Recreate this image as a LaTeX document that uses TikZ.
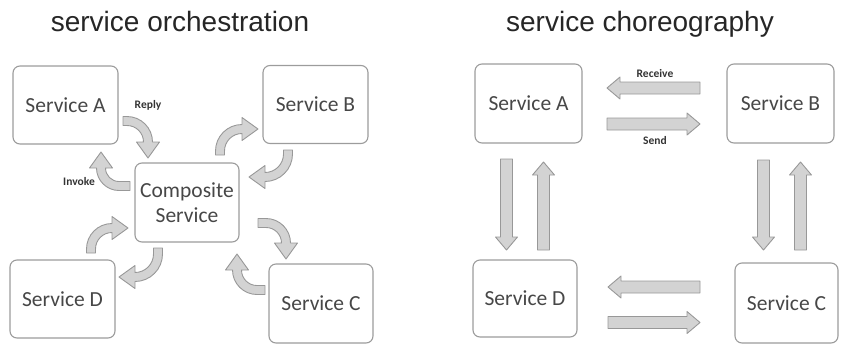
\documentclass[tikz,border=0pt]{standalone}
\usepackage{fontspec}
\setmainfont{Liberation Sans}
\newfontfamily\svcfont{Carlito}
\usetikzlibrary{calc}

\definecolor{boxgray}{HTML}{9C9C9C}
\definecolor{arrowfill}{HTML}{D3D3D3}
\definecolor{arrowline}{HTML}{989898}
\definecolor{svctext}{HTML}{474747}
\definecolor{labeltext}{HTML}{333333}
\definecolor{titletext}{HTML}{262626}

% half shaft width, half head width and head length of the bent arrows
\def\bsw{4.5}
\def\bhw{11.5}
\def\bhl{16}
% same for the straight arrows
\def\ssw{6pt}
\def\shw{11pt}
\def\shl{13pt}

% bent block arrow: #1 centre of the bend, #2 start angle, #3 end angle,
% #4 radius of the bend, #5 length of the straight tail
\newcommand{\bentarrow}[5]{%
  \pgfmathsetmacro\dirsgn{(#3>#2) ? 1 : -1}%
  \pgfmathsetmacro\headdir{#3+90*\dirsgn}%
  \pgfmathsetmacro\taildir{#2-90*\dirsgn}%
  \pgfmathsetmacro\ro{#4+\bsw}%
  \pgfmathsetmacro\ri{#4-\bsw}%
  \pgfmathsetmacro\hwo{#4+\bhw}%
  \pgfmathsetmacro\hwi{#4-\bhw}%
  \draw[blockarrow]
    ($(#1)+(#2:\ri)+(\taildir:#5)$) -- ($(#1)+(#2:\ro)+(\taildir:#5)$)
    -- ($(#1)+(#2:\ro)$) arc[start angle=#2, end angle=#3, radius=\ro]
    -- ($(#1)+(#3:\hwo)$) -- ($(#1)+(#3:#4)+(\headdir:\bhl)$)
    -- ($(#1)+(#3:\hwi)$) -- ($(#1)+(#3:\ri)$)
    arc[start angle=#3, end angle=#2, radius=\ri] -- cycle;
}

% straight block arrow from #1 to the tip #2
\newcommand{\flatarrow}[2]{%
  \path ($(#2)!\shl!(#1)$) coordinate (hb);
  \draw[blockarrow]
    ($(#1)!\ssw!90:(#2)$) -- ($(hb)!\ssw!90:(#2)$) -- ($(hb)!\shw!90:(#2)$)
    -- (#2) -- ($(hb)!\shw!-90:(#2)$) -- ($(hb)!\ssw!-90:(#2)$)
    -- ($(#1)!\ssw!-90:(#2)$) -- cycle;
}

\begin{document}
\begin{tikzpicture}[x=1pt, y=1pt,
  svc/.style={draw=boxgray, line width=1.1pt, rounded corners=7pt, fill=white,
    minimum width=105pt, minimum height=78pt, inner sep=0pt, align=center,
    text=svctext, font=\svcfont\fontsize{21.5}{25}\selectfont},
  heading/.style={anchor=base, text=titletext, font=\fontsize{28}{32}\selectfont},
  msg/.style={text=labeltext, font=\svcfont\bfseries\fontsize{11.5}{13}\selectfont},
  blockarrow/.style={fill=arrowfill, draw=arrowline, line width=0.9pt, line join=round}]
\useasboundingbox (0,0) rectangle (846,-346);

% headings
\node[heading] (t1) at (180,-31.5) {service orchestration};
\node[heading] (t2) at (640,-31.5) {service choreography};

% orchestration: services around the composite service
\node[svc] (oA) at (65.5,-105) {Service A};
\node[svc] (oB) at (315.5,-104.5) {Service B};
\node[svc, minimum width=104pt, minimum height=79pt] (oX) at (187,-202.5) {Composite\\Service};
\node[svc] (oD) at (62.5,-299) {Service D};
\node[svc, minimum width=104pt, minimum height=79pt] (oC) at (321,-303.5) {Service C};

\coordinate (bReply)  at (127,-142);
\coordinate (bInvoke) at (119,-168);
\coordinate (bXB)     at (242,-151);
\coordinate (bBX)     at (265,-154);
\coordinate (bXC)     at (266,-243);
\coordinate (bCX)     at (257,-270);
\coordinate (bDX)     at (112,-249);
\coordinate (bXD)     at (135,-254);

\bentarrow{bReply}{90}{0}{21}{4}
\bentarrow{bInvoke}{270}{180}{18}{11}
\bentarrow{bXB}{180}{90}{22}{4}
\bentarrow{bBX}{0}{-90}{23}{4}
\bentarrow{bXC}{90}{0}{20}{8}
\bentarrow{bCX}{270}{180}{20}{8}
\bentarrow{bDX}{180}{90}{21}{4}
\bentarrow{bXD}{0}{-90}{23}{6}

\node[msg] (lReply)  at (148,-105) {Reply};
\node[msg] (lInvoke) at (79,-182) {Invoke};

% choreography: services talking to each other directly
\node[svc, minimum width=107pt, minimum height=79pt] (cA) at (528.5,-103.5) {Service A};
\node[svc, minimum width=107pt, minimum height=79pt] (cB) at (780.5,-103.5) {Service B};
\node[svc, minimum width=104pt, minimum height=77pt] (cD) at (525,-298.5) {Service D};
\node[svc, minimum width=103pt, minimum height=80pt] (cC) at (786.5,-303) {Service C};

\coordinate (rcvS) at (700,-88);   \coordinate (rcvE) at (607,-88);
\coordinate (sndS) at (607,-124);  \coordinate (sndE) at (700,-124);
\coordinate (adS)  at (506.5,-159); \coordinate (adE)  at (506.5,-250);
\coordinate (daS)  at (543.5,-250); \coordinate (daE)  at (543.5,-162);
\coordinate (bcS)  at (763.5,-160); \coordinate (bcE)  at (763.5,-250);
\coordinate (cbS)  at (800.5,-250); \coordinate (cbE)  at (800.5,-162);
\coordinate (cdS)  at (700,-287);   \coordinate (cdE)  at (608,-287);
\coordinate (dcS)  at (608,-322.5); \coordinate (dcE)  at (700,-322.5);

\flatarrow{rcvS}{rcvE}
\flatarrow{sndS}{sndE}
\flatarrow{adS}{adE}
\flatarrow{daS}{daE}
\flatarrow{bcS}{bcE}
\flatarrow{cbS}{cbE}
\flatarrow{cdS}{cdE}
\flatarrow{dcS}{dcE}

\node[msg] (lReceive) at (655,-74) {Receive};
\node[msg] (lSend)    at (655,-141) {Send};
\end{tikzpicture}
\end{document}
